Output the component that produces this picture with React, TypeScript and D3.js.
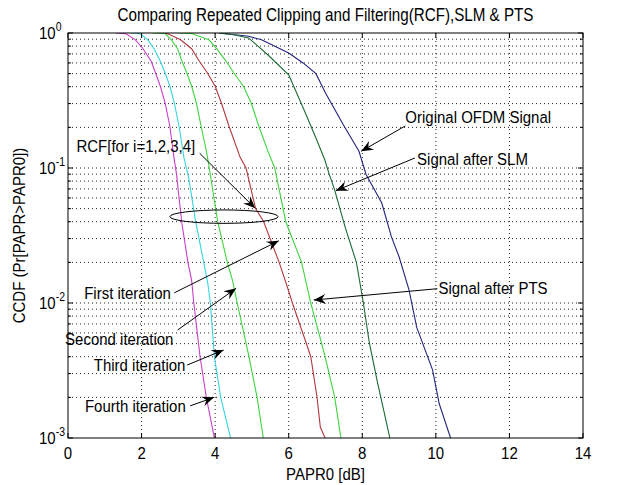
import * as d3 from "d3";

// CCDF curves: [PAPR0 dB, Pr(PAPR > PAPR0)]
const fourthIteration: [number, number][] = [
  [1.3, 1], [1.57, 0.99], [1.83, 0.89], [2.04, 0.765], [2.26, 0.617], [2.38, 0.505],
  [2.51, 0.403], [2.64, 0.303], [2.77, 0.203], [2.88, 0.12], [2.95, 0.09], [3.09, 0.04],
  [3.26, 0.02], [3.36, 0.0148], [3.42, 0.01], [3.59, 0.004], [3.76, 0.002], [3.98, 0.001],
];
const thirdIteration: [number, number][] = [
  [1.7, 1], [1.96, 0.99], [2.17, 0.89], [2.34, 0.765], [2.51, 0.617], [2.64, 0.505],
  [2.77, 0.403], [2.89, 0.303], [3.02, 0.203], [3.15, 0.12], [3.28, 0.085], [3.47, 0.04],
  [3.69, 0.02], [3.8, 0.014], [3.87, 0.01], [3.98, 0.004], [4.15, 0.002], [4.42, 0.001],
];
const secondIteration: [number, number][] = [
  [2.3, 1], [2.64, 0.99], [2.81, 0.89], [2.98, 0.765], [3.1, 0.617], [3.23, 0.505],
  [3.36, 0.403], [3.49, 0.303], [3.62, 0.203], [3.77, 0.13], [3.84, 0.1], [4.07, 0.04],
  [4.33, 0.02], [4.47, 0.0148], [4.6, 0.01], [4.92, 0.004], [5.14, 0.002], [5.31, 0.001],
];
const firstIteration: [number, number][] = [
  [2.5, 1], [2.7, 0.99], [3.06, 0.89], [3.36, 0.765], [3.57, 0.617], [3.79, 0.505],
  [4.0, 0.403], [4.17, 0.303], [4.38, 0.203], [4.68, 0.12], [4.84, 0.1], [5.1, 0.05],
  [5.32, 0.04], [5.74, 0.02], [5.93, 0.014], [6.1, 0.01], [6.45, 0.0053], [6.6, 0.004],
  [6.77, 0.002], [6.86, 0.0012], [6.99, 0.001],
];
const afterPts: [number, number][] = [
  [3.0, 1], [3.36, 0.99], [3.83, 0.89], [4.04, 0.765], [4.3, 0.617], [4.51, 0.505],
  [4.77, 0.403], [4.98, 0.303], [5.19, 0.203], [5.45, 0.13], [5.62, 0.1], [5.92, 0.04],
  [6.35, 0.02], [6.6, 0.01], [6.99, 0.004], [7.25, 0.002], [7.42, 0.001],
];
const afterSlm: [number, number][] = [
  [4.1, 1], [4.5, 0.97], [4.91, 0.92], [5.43, 0.69], [6.0, 0.49], [6.43, 0.264],
  [6.74, 0.167], [6.98, 0.115], [7.1, 0.09], [7.24, 0.07], [7.54, 0.036], [7.84, 0.02],
  [8.03, 0.01], [8.19, 0.0051], [8.41, 0.0026], [8.75, 0.001],
];
const originalOfdm: [number, number][] = [
  [4.1, 1], [4.91, 0.945], [5.26, 0.89], [5.61, 0.8], [6.0, 0.71], [6.39, 0.6],
  [6.74, 0.5], [7.0, 0.36], [7.48, 0.21], [7.91, 0.133], [8.1, 0.09], [8.53, 0.055],
  [8.79, 0.031], [9.0, 0.022], [9.27, 0.0125], [9.48, 0.0066], [9.91, 0.0032],
  [10.09, 0.0018], [10.4, 0.001],
];

const xTicks = [0, 2, 4, 6, 8, 10, 12, 14];
const yExponents = [0, -1, -2, -3];

const W = 618;
const H = 485;
const left = 68;
const right = 583;
const top = 33;
const bottom = 438;
const font = "'Liberation Sans', Arial, sans-serif";
const stretch = 1.15; // matlab screen font is taller than it is wide

const series = [
  { data: originalOfdm, color: "#25257f" },
  { data: afterSlm, color: "#1c6b35" },
  { data: afterPts, color: "#3fd43f" },
  { data: firstIteration, color: "#b3383f" },
  { data: secondIteration, color: "#3fd43f" },
  { data: thirdIteration, color: "#35d6e0" },
  { data: fourthIteration, color: "#c840c8" },
];

// annotations in data units: text position, arrow tail, arrow tip
const notes = [
  { text: "Original OFDM Signal", at: [9.17, 0.219], tail: [9.17, 0.205], tip: [7.97, 0.133] },
  { text: "Signal after SLM", at: [9.49, 0.107], tail: [9.43, 0.1186], tip: [7.28, 0.0679] },
  { text: "Signal after PTS", at: [10.07, 0.01186], tail: [10.04, 0.01276], tip: [6.68, 0.01052] },
  { text: "RCF[for i=1,2,3,4]", at: [0.23, 0.1336], tail: [3.58, 0.1285], tip: [5.09, 0.0503] },
  { text: "First iteration", at: [0.44, 0.0109], tail: [2.89, 0.0119], tip: [5.73, 0.0289] },
  { text: "Second iteration", at: [-0.08, 0.00497], tail: [2.98, 0.00631], tip: [4.57, 0.01285] },
  { text: "Third iteration", at: [0.7, 0.00319], tail: [3.24, 0.00347], tip: [4.23, 0.00449] },
  { text: "Fourth iteration", at: [0.46, 0.00158], tail: [3.32, 0.00173], tip: [3.97, 0.002] },
];

function Label({ x, y, anchor = "start", size = 15, rotate = 0, children }: any) {
  return (
    <text
      transform={`translate(${x},${y}) rotate(${rotate}) scale(1,${stretch})`}
      textAnchor={anchor}
      fontFamily={font}
      fontSize={size}
      fill="#000"
    >
      {children}
    </text>
  );
}

export default function App() {
  const x = d3.scaleLinear().domain([0, 14]).range([left, right]);
  const y = d3.scaleLog().domain([1e-3, 1]).range([bottom, top]);
  const line = d3
    .line<[number, number]>()
    .x((d) => x(d[0]))
    .y((d) => y(d[1]));

  const minor: number[] = [];
  for (let e = -3; e < 0; e++) {
    for (let k = 1; k <= 9; k++) minor.push(k * Math.pow(10, e));
  }
  minor.push(1);

  const dot = { stroke: "#222", strokeWidth: 1, strokeDasharray: "1 3" };

  return (
    <svg width={W} height={H} style={{ position: "absolute", left: 0, top: 0, background: "#fff" }}>
      <defs>
        <clipPath id="plot">
          <rect x={left} y={top} width={right - left} height={bottom - top} />
        </clipPath>
      </defs>
      <rect x={0} y={0} width={W} height={H} fill="#fff" />

      {/* grid */}
      {minor.slice(1, -1).map((v) => (
        <line key={"gy" + v} x1={left} x2={right} y1={y(v)} y2={y(v)} {...dot} />
      ))}
      {xTicks.slice(1, -1).map((v) => (
        <line key={"gx" + v} x1={x(v)} x2={x(v)} y1={top} y2={bottom} {...dot} />
      ))}

      {/* curves */}
      <g clipPath="url(#plot)" fill="none">
        {series.map((s, i) => (
          <path key={i} d={line(s.data) ?? ""} stroke={s.color} strokeWidth={1.1} />
        ))}
      </g>

      {/* ticks */}
      {xTicks.map((v) => (
        <g key={"tx" + v} stroke="#000">
          <line x1={x(v)} x2={x(v)} y1={bottom} y2={bottom - 5} />
          <line x1={x(v)} x2={x(v)} y1={top} y2={top + 5} />
        </g>
      ))}
      {minor.map((v, i) => {
        const len = i % 9 === 0 ? 5 : 3;
        return (
          <g key={"ty" + i} stroke="#000">
            <line x1={left} x2={left + len} y1={y(v)} y2={y(v)} />
            <line x1={right} x2={right - len} y1={y(v)} y2={y(v)} />
          </g>
        );
      })}
      <rect x={left} y={top} width={right - left} height={bottom - top} fill="none" stroke="#000" />

      {/* tick labels */}
      {xTicks.map((v) => (
        <Label key={"lx" + v} x={x(v)} y={bottom + 21} anchor="middle">
          {v}
        </Label>
      ))}
      {yExponents.map((e) => (
        <Label key={"ly" + e} x={39} y={y(Math.pow(10, e)) + 6}>
          10
          <tspan dy={-7} fontSize={10.5}>
            {e}
          </tspan>
        </Label>
      ))}
      <Label x={(left + right) / 2} y={480} anchor="middle">
        PAPR0 [dB]
      </Label>
      <Label x={25} y={(top + bottom) / 2} anchor="middle" rotate={-90}>
        CCDF (Pr[PAPR&gt;PAPR0])
      </Label>
      <Label x={(left + right) / 2} y={21} anchor="middle" size={15.2}>
        Comparing Repeated Clipping and Filtering(RCF),SLM &amp; PTS
      </Label>

      {/* annotations */}
      <ellipse
        cx={(x(2.77) + x(5.71)) / 2}
        cy={(y(0.0489) + y(0.0389)) / 2}
        rx={(x(5.71) - x(2.77)) / 2}
        ry={(y(0.0389) - y(0.0489)) / 2}
        fill="none"
        stroke="#000"
      />
      {notes.map((n) => {
        const x1 = x(n.tail[0]);
        const y1 = y(n.tail[1]);
        const x2 = x(n.tip[0]);
        const y2 = y(n.tip[1]);
        const ang = (Math.atan2(y2 - y1, x2 - x1) * 180) / Math.PI;
        return (
          <g key={n.text}>
            <line x1={x1} y1={y1} x2={x2} y2={y2} stroke="#000" />
            <path
              d="M0,0 L-12,-5 L-8,0 L-12,5 Z"
              fill="#000"
              transform={`translate(${x2},${y2}) rotate(${ang})`}
            />
            <Label x={x(n.at[0])} y={y(n.at[1]) + 1}>
              {n.text}
            </Label>
          </g>
        );
      })}
    </svg>
  );
}
